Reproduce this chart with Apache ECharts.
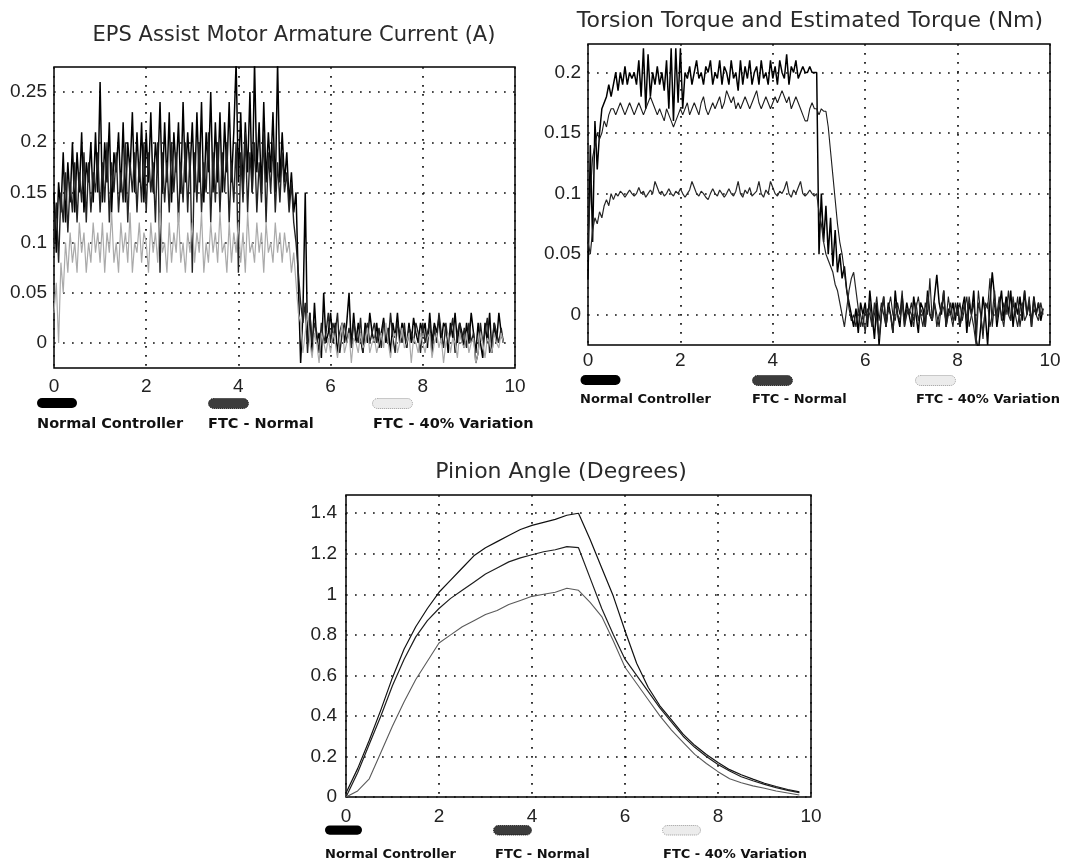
<!DOCTYPE html>
<html><head><meta charset="utf-8">
<script src="https://cdn.jsdelivr.net/npm/echarts@6/dist/echarts.min.js"></script>
<style>html,body{margin:0;padding:0;background:#fff}#c{width:1066px;height:864px}</style>
</head><body><div id="c"></div>
<script>
// ---------- labels ----------
const seriesNames = ['Normal Controller', 'FTC - Normal', 'FTC - 40% Variation'];
const chartTitles = ['EPS Assist Motor Armature Current (A)', 'Torsion Torque and Estimated Torque (Nm)', 'Pinion Angle (Degrees)'];
const timeTicks = [0, 2, 4, 6, 8, 10];
const currentTicks = [0, 0.05, 0.1, 0.15, 0.2, 0.25];
const torqueTicks = [0, 0.05, 0.1, 0.15, 0.2];
const angleTicks = [0, 0.2, 0.4, 0.6, 0.8, 1, 1.2, 1.4];

// ---------- sample periods (s) ----------
const currentStep = 0.05;
const torqueStep = 0.05;
const angleStep = 0.25;

// ---------- EPS assist motor armature current (A), t = 0 .. 9.75 ----------
const currentNormal = [
 .15,.09,.16,.13,.19,.12,.18,.14,.20,.13,.19,.15,.21,.13,.18,.16,.20,.14,.21,.15,
 .26,.14,.20,.16,.22,.13,.19,.17,.21,.15,.22,.14,.20,.17,.23,.15,.21,.16,.22,.14,
 .21,.16,.23,.15,.20,.17,.24,.15,.22,.16,.23,.14,.21,.17,.22,.15,.24,.16,.21,.17,
 .22,.15,.23,.16,.24,.14,.21,.17,.25,.15,.22,.16,.23,.15,.22,.17,.24,.16,.21,.28,
 .16,.23,.15,.22,.17,.25,.15,.28,.17,.22,.15,.24,.16,.21,.17,.23,.15,.28,.16,.21,
 .16,.19,.14,.17,.13,.15,.06,-.02,.03,.15,.00,.03,-.01,.04,.00,.01,-.015,.05,.00,.01,
 .03,.00,.02,-.01,.01,.02,.00,.02,.05,-.005,.03,.00,.02,.005,-.01,.02,.00,.03,.01,.00,
 .02,-.005,.01,.025,.00,.015,-.01,.02,.005,.03,.00,.02,.01,-.005,.02,.00,.025,.01,.00,.02,
 .01,.02,-.005,.03,.00,.02,.01,.025,.00,.02,.015,-.01,.02,.005,.03,.00,.02,.01,-.005,.02,
 .00,.03,.01,-.01,.02,.00,-.015,.02,.00,.03,-.01,.02,.00,.03,.01,.00
];
const currentFtcNormal = [
 .10,.14,.08,.15,.12,.17,.11,.16,.13,.18,.12,.17,.14,.19,.12,.18,.13,.17,.15,.19,
 .13,.18,.14,.20,.12,.18,.15,.19,.13,.17,.14,.20,.12,.18,.15,.19,.13,.18,.14,.20,
 .13,.19,.15,.18,.12,.20,.07,.19,.14,.18,.13,.20,.15,.19,.12,.18,.14,.20,.13,.19,
 .07,.19,.14,.20,.13,.18,.15,.21,.12,.19,.14,.20,.13,.19,.15,.20,.12,.18,.14,.20,
 .07,.19,.14,.21,.13,.19,.15,.20,.13,.18,.14,.21,.12,.19,.15,.20,.13,.18,.14,.19,
 .15,.17,.13,.16,.12,.10,.07,.04,.02,.04,-.01,.03,.00,.02,.01,-.01,.02,.00,.01,.03,
 .00,.02,.01,.03,-.01,.01,.02,.00,.015,-.005,.02,.01,.00,.025,-.01,.01,.02,.00,.01,.02,
 .00,.015,-.005,.02,.01,.00,.03,.005,-.01,.02,.01,.00,.02,-.005,.015,.01,.00,.02,.01,-.01,
 .02,.00,.01,.02,-.01,.015,.00,.03,.01,-.005,.02,.00,.01,.025,-.01,.01,.02,.00,.015,-.005,
 .02,.00,.01,-.02,-.01,.02,.00,.01,.025,-.01,.00,.02,.01,.00,.015,.00
];
const currentFtc40 = [
 .03,.06,.00,.08,.05,.10,.07,.11,.08,.10,.07,.12,.09,.11,.07,.10,.08,.12,.09,.11,
 .08,.12,.07,.11,.09,.13,.08,.10,.07,.12,.09,.11,.08,.13,.07,.10,.09,.12,.08,.11,
 .10,.07,.12,.09,.11,.08,.13,.09,.10,.07,.12,.08,.11,.09,.13,.08,.10,.07,.11,.09,
 .12,.08,.11,.09,.13,.07,.10,.08,.12,.09,.11,.08,.13,.09,.10,.07,.12,.08,.11,.09,
 .12,.08,.11,.07,.13,.09,.10,.08,.12,.09,.11,.07,.12,.09,.10,.08,.12,.09,.11,.08,
 .11,.09,.10,.07,.09,.06,.03,.02,-.01,.01,.03,.00,-.015,.01,.00,-.02,.01,.00,-.01,.005,
 -.01,.01,.00,-.015,.005,.02,-.01,.00,.01,-.02,.005,.00,-.01,.01,-.005,.00,.015,-.01,.00,.005,
 -.01,.00,.01,-.005,.02,.00,-.015,.005,.01,-.01,.00,.015,-.005,.00,.01,-.02,.005,.00,-.01,.01,
 .00,-.01,.005,.01,-.015,.00,.01,-.005,.005,-.02,.00,.01,-.01,.005,.00,-.015,.01,.00,-.005,.01,
 -.01,.00,.005,-.02,-.01,.01,.00,-.015,.005,.00,-.01,.01,.00,-.005,.01,.00
];

// ---------- torsion / estimated torque (Nm), t = 0 .. 9.85 ----------
const torqueNormal = [
 .03,.14,.06,.16,.12,.15,.17,.175,.18,.19,.18,.19,.20,.185,.20,.19,.205,.19,.20,.195,
 .20,.19,.21,.18,.22,.17,.215,.18,.20,.19,.205,.19,.20,.185,.21,.17,.22,.16,.22,.175,
 .22,.17,.20,.195,.205,.19,.20,.21,.195,.20,.19,.205,.20,.21,.19,.20,.195,.21,.19,.205,
 .20,.19,.21,.195,.20,.185,.21,.19,.205,.195,.21,.19,.20,.205,.19,.21,.195,.20,.19,.21,
 .195,.205,.19,.21,.20,.195,.215,.19,.205,.20,.21,.195,.20,.205,.20,.20,.205,.20,.20,.20,
 .05,.10,.06,.09,.05,.08,.04,.07,.035,.05,.03,.04,.02,.01,.00,-.01,.005,-.015,.01,.00,
 .01,-.01,.02,.00,-.02,.01,-.025,.00,.015,-.01,.01,.00,-.015,.02,.00,-.01,.015,-.005,.01,.00,
 -.01,.015,.00,-.015,.01,.005,-.01,.02,.00,-.005,.015,.033,.01,.00,.02,-.01,.005,.00,.01,-.005,
 .01,-.01,.005,.015,-.015,.01,.00,.02,-.02,-.03,-.01,.015,.00,-.025,.01,.035,.015,-.01,.005,.02,
 -.005,.015,.00,.02,-.01,.01,.00,.015,-.005,.02,.00,.01,-.01,.015,.00,.01,-.005,.005
];
const torqueFtcNormal = [
 .06,.10,.13,.14,.15,.145,.15,.16,.155,.165,.17,.17,.165,.17,.175,.17,.165,.17,.175,.17,
 .165,.17,.175,.17,.165,.17,.175,.18,.175,.17,.165,.17,.165,.16,.17,.165,.16,.155,.16,.165,
 .17,.165,.17,.175,.165,.17,.175,.17,.165,.175,.18,.17,.165,.17,.175,.17,.175,.18,.17,.175,
 .185,.18,.175,.18,.17,.175,.17,.175,.18,.175,.17,.175,.18,.185,.175,.17,.175,.18,.175,.17,
 .175,.18,.175,.18,.185,.18,.175,.18,.17,.175,.18,.175,.17,.165,.16,.16,.17,.175,.17,.17,
 .165,.17,.168,.168,.155,.135,.115,.095,.075,.06,.05,.035,.02,.005,-.005,.00,-.01,.005,.00,-.01,
 .005,-.005,.01,-.01,.00,.015,-.005,.01,.00,-.01,.005,.015,.00,-.005,.01,.00,.02,-.01,.005,.00,
 .01,-.005,.005,.015,.00,-.01,.01,.00,.03,-.005,.01,.00,-.01,.01,.005,-.005,.015,.00,-.01,.01,
 .00,.01,-.005,.005,.015,-.01,.00,.01,-.015,.02,.00,-.02,.01,.005,.03,-.01,.01,.00,.015,-.005,
 .01,.00,.02,-.005,.01,.00,.015,-.01,.005,.02,.00,.01,-.005,.015,.00,.01,.00,.005
];
const torqueFtc40 = [
 .06,.05,.07,.08,.075,.085,.08,.09,.095,.09,.10,.095,.10,.098,.102,.10,.097,.10,.103,.10,
 .098,.10,.105,.10,.102,.097,.10,.103,.10,.11,.105,.10,.102,.098,.10,.104,.10,.098,.102,.10,
 .104,.10,.097,.10,.103,.11,.105,.10,.098,.102,.10,.097,.095,.10,.104,.10,.098,.103,.10,.097,
 .10,.104,.10,.098,.102,.11,.10,.097,.103,.10,.105,.098,.10,.102,.11,.10,.097,.103,.10,.11,
 .105,.10,.098,.102,.10,.104,.11,.10,.097,.103,.10,.105,.11,.10,.098,.10,.103,.10,.098,.10,
 .085,.075,.06,.05,.045,.04,.035,.025,.02,.01,.00,-.01,.005,.02,.03,.035,.02,.005,-.01,.00,
 -.015,.005,.00,-.01,.01,-.005,-.02,.00,.015,-.01,.005,.00,-.015,.01,.00,-.005,.01,-.01,.00,.005,
 .00,-.01,.01,-.005,.005,.00,-.01,.015,.00,-.005,.01,-.01,.00,.005,.02,-.01,.00,.01,-.005,.00,
 .005,-.01,.00,.01,-.005,.015,.00,-.01,-.025,.01,.00,-.015,.005,.01,-.01,.00,.02,-.005,.01,.00,
 -.01,.01,.00,-.005,.015,.00,-.01,.005,.01,-.005,.00,.015,-.01,.005,.00,-.005,.01,.00
];

// ---------- pinion angle (degrees), t = 0 .. 9.75 ----------
const angleNormal = [.02,.14,.28,.43,.59,.73,.84,.93,1.01,1.07,1.13,1.19,1.23,1.26,1.29,1.32,1.34,1.355,1.37,1.39,
 1.40,1.27,1.13,.99,.82,.66,.54,.45,.38,.31,.255,.21,.17,.135,.11,.088,.068,.052,.037,.025];
const angleFtcNormal = [.00,.12,.26,.40,.55,.68,.79,.87,.93,.98,1.02,1.06,1.10,1.13,1.16,1.18,1.195,1.21,1.22,1.235,
 1.23,1.08,.93,.80,.68,.60,.52,.44,.37,.30,.245,.20,.16,.128,.10,.08,.062,.046,.033,.022];
const angleFtc40 = [.00,.03,.09,.22,.35,.47,.58,.67,.76,.80,.84,.87,.90,.92,.95,.97,.99,1.00,1.01,1.03,
 1.02,.96,.89,.77,.64,.56,.48,.40,.33,.27,.21,.165,.125,.09,.07,.055,.043,.03,.02,.01];

// ---------- build ----------
const toPairs = (vals, step) => vals.map((v, i) => [Math.round(i * step * 1000) / 1000, v]);

const panels = [
  { grid: { left: 54, top: 67, width: 461, height: 301 }, yMin: -0.025, yMax: 0.275, ticks: currentTicks,
    data: [[currentNormal, currentStep], [currentFtcNormal, currentStep], [currentFtc40, currentStep]],
    colors: ['#000', '#222', '#aaaaaa'], widths: [1.5, 1.4, 1.2],
    title: { x: 294, y: 36, size: 21 }, xMargin: 9, yMargin: 7,
    icons: [[37, 398, 40], [208, 398, 40], [372, 398, 40]],
    texts: [[37, 417], [208, 417], [373, 417]], textSize: 14.5 },
  { grid: { left: 588, top: 44, width: 462, height: 301 }, yMin: -0.025, yMax: 0.2235, ticks: torqueTicks,
    data: [[torqueNormal, torqueStep], [torqueFtcNormal, torqueStep], [torqueFtc40, torqueStep]],
    colors: ['#000', '#1c1c1c', '#262626'], widths: [1.5, 1.1, 1.2],
    title: { x: 810, y: 21, size: 22 }, xMargin: 6, yMargin: 7,
    icons: [[580, 375, 41], [752, 375, 41], [915, 375, 41]],
    texts: [[580, 393], [752, 393], [916, 393]], textSize: 13 },
  { grid: { left: 346, top: 495, width: 465, height: 302 }, yMin: 0, yMax: 1.49, ticks: angleTicks,
    data: [[angleNormal, angleStep], [angleFtcNormal, angleStep], [angleFtc40, angleStep]],
    colors: ['#111', '#1e1e1e', '#5a5a5a'], widths: [1.2, 1.2, 1.1],
    title: { x: 561, y: 472, size: 22 }, xMargin: 10, yMargin: 9,
    icons: [[325, 825, 37], [493, 825, 38], [662, 825, 38]],
    texts: [[325, 848], [495, 848], [663, 848]], textSize: 13 }
];

const iconPath = 'path://M5 0H35A5 5 0 0 1 35 10H5A5 5 0 0 1 5 0Z';
const iconStyles = [
  { color: '#000', borderWidth: 0 },
  { color: '#3c3c3c', borderColor: '#111', borderWidth: 1, borderType: 'dotted' },
  { color: '#ececec', borderColor: '#9a9a9a', borderWidth: 1, borderType: 'dotted' }
];
const labelFont = '"Liberation Sans", Arial, sans-serif';
const gridLine = { color: '#111', width: 1.7, type: [1.7, 7.3] };

const option = {
  animation: false,
  backgroundColor: '#fff',
  title: [], grid: [], xAxis: [], yAxis: [], series: [], legend: [], graphic: []
};

panels.forEach((p, k) => {
  option.title.push({
    text: chartTitles[k], left: p.title.x, top: p.title.y, textAlign: 'center', textVerticalAlign: 'middle', padding: 0,
    textStyle: { fontFamily: '"DejaVu Sans", sans-serif', fontSize: p.title.size, fontWeight: 'normal', color: '#2a2a2a' }
  });
  option.grid.push(Object.assign({ show: true, borderColor: '#000', borderWidth: 1.5, backgroundColor: '#fff', containLabel: false }, p.grid));
  option.xAxis.push({
    type: 'value', gridIndex: k, min: 0, max: 10, interval: 2,
    axisLine: { show: false }, axisTick: { show: false },
    axisLabel: { margin: p.xMargin, fontFamily: labelFont, fontSize: 19, color: '#222' },
    splitLine: { show: true, lineStyle: gridLine }
  });
  option.yAxis.push({
    type: 'value', gridIndex: k, min: p.yMin, max: p.yMax,
    axisLine: { show: false }, axisTick: { show: false, customValues: p.ticks },
    axisLabel: { margin: p.yMargin, fontFamily: labelFont, fontSize: 19, color: '#222', customValues: p.ticks },
    splitLine: { show: true, lineStyle: gridLine }
  });
  p.data.forEach(([vals, step], j) => {
    option.series.push({
      type: 'line', name: seriesNames[j], xAxisIndex: k, yAxisIndex: k,
      data: toPairs(vals, step), showSymbol: false, symbol: 'none', smooth: false,
      lineStyle: { color: p.colors[j], width: p.widths[j] }, itemStyle: { color: p.colors[j] },
      clip: true, silent: true
    });
    option.legend.push({
      left: p.icons[j][0], top: p.icons[j][1], padding: 0, itemWidth: p.icons[j][2], itemHeight: 10,
      selectedMode: false, formatter: () => '',
      data: [{ name: seriesNames[j], icon: iconPath, itemStyle: iconStyles[j] }]
    });
    option.graphic.push({
      type: 'text', left: p.texts[j][0], top: p.texts[j][1], silent: true,
      style: { text: seriesNames[j], font: 'bold ' + p.textSize + 'px "DejaVu Sans", sans-serif', fill: '#111' }
    });
  });
});

const chart = echarts.init(document.getElementById('c'), null, { renderer: 'canvas' });
chart.setOption(option);
</script>
</body></html>
